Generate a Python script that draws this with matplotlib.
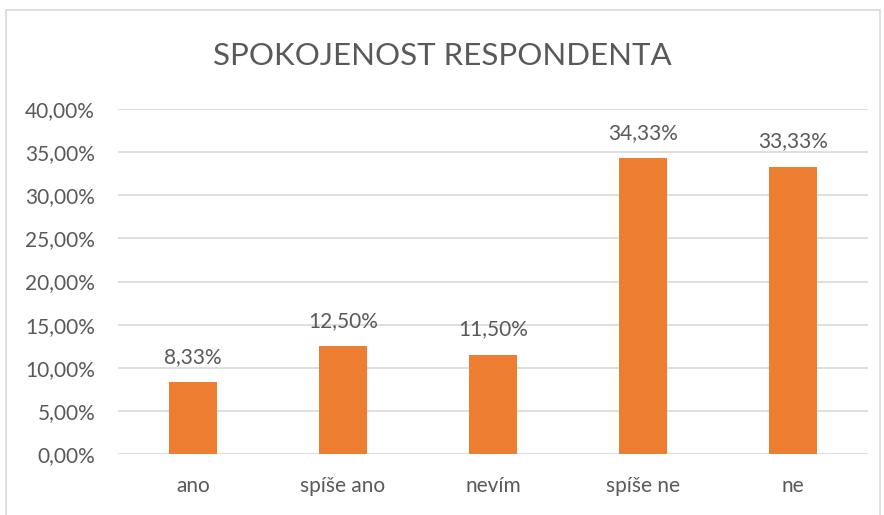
import matplotlib
matplotlib.use("Agg")
import matplotlib.pyplot as plt
from matplotlib.patches import Rectangle
from matplotlib.ticker import FuncFormatter

categories = ["ano", "spíše ano", "nevím", "spíše ne", "ne"]
values = [8.33, 12.50, 11.50, 34.33, 33.33]
title = "SPOKOJENOST RESPONDENTA"

ORANGE = "#ED7D31"
TEXT = "#595959"
GRID = "#D9D9D9"

plt.rcParams['font.family'] = ['Lato', 'DejaVu Sans']


def pct(v):
    return "{:.2f}%".format(v).replace(".", ",")


W, H = 884, 515
fig = plt.figure(figsize=(W / 100, H / 100), dpi=100)
fig.patch.set_facecolor("white")

# chart frame (bottom edge is outside the picture)
fig.patches.append(Rectangle((6 / W, -0.1), 874 / W, 1.1 - 10 / H,
                             transform=fig.transFigure, fill=False,
                             edgecolor=GRID, linewidth=1.2))

ax = fig.add_axes([118 / W, (H - 454) / H, 750 / W, 345 / H])
x = range(len(categories))
bars = ax.bar(x, values, width=0.315, color=ORANGE, zorder=3)

ax.set_xlim(-0.5, len(categories) - 0.5)
ax.set_ylim(0, 40)
ax.set_yticks(range(0, 41, 5))
ax.yaxis.set_major_formatter(FuncFormatter(lambda v, p: pct(v)))
ax.set_xticks(list(x))
ax.set_xticklabels(categories)
ax.tick_params(axis="both", length=0, colors=TEXT, labelsize=15)
ax.tick_params(axis="y", pad=16.5)
ax.tick_params(axis="x", pad=16)
ax.grid(axis="y", color=GRID, linewidth=1.2, zorder=0)
for s in ax.spines.values():
    s.set_visible(False)

for b, v in zip(bars, values):
    ax.annotate(pct(v), (b.get_x() + b.get_width() / 2, v),
                xytext=(0, 11), textcoords="offset points",
                ha="center", va="bottom", color=TEXT, fontsize=15)

fig.text(0.5, (H - 56) / H, title, ha="center", va="center",
         color=TEXT, fontsize=22.5)

fig.savefig("out.png", dpi=100)
